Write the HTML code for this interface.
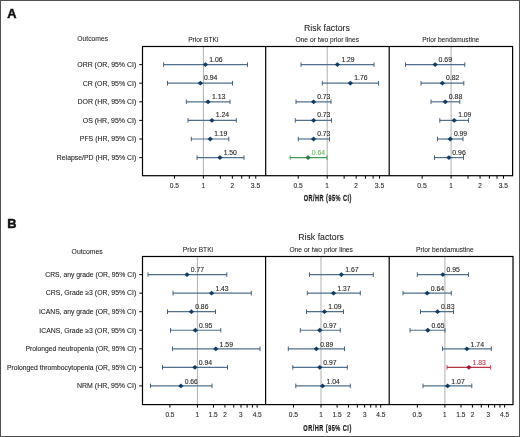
<!DOCTYPE html>
<html><head><meta charset="utf-8"><style>
html,body{margin:0;padding:0;background:#fff;}
body{width:520px;height:437px;overflow:hidden;}
svg{display:block;font-family:"Liberation Sans", sans-serif;-webkit-font-smoothing:antialiased;will-change:transform;}
</style></head><body>
<svg width="520" height="437" viewBox="0 0 520 437">
<rect x="0.5" y="0.5" width="519" height="436" fill="#fff" stroke="#505050" stroke-width="1"/>
<line x1="203.40" y1="46.50" x2="203.40" y2="175.70" stroke="#b0b0b0" stroke-width="1"/>
<line x1="327.20" y1="46.50" x2="327.20" y2="175.70" stroke="#b0b0b0" stroke-width="1"/>
<line x1="451.10" y1="46.50" x2="451.10" y2="175.70" stroke="#b0b0b0" stroke-width="1"/>
<line x1="139.30" y1="64.60" x2="142.50" y2="64.60" stroke="#000" stroke-width="1"/>
<line x1="139.30" y1="83.20" x2="142.50" y2="83.20" stroke="#000" stroke-width="1"/>
<line x1="139.30" y1="101.80" x2="142.50" y2="101.80" stroke="#000" stroke-width="1"/>
<line x1="139.30" y1="120.40" x2="142.50" y2="120.40" stroke="#000" stroke-width="1"/>
<line x1="139.30" y1="139.00" x2="142.50" y2="139.00" stroke="#000" stroke-width="1"/>
<line x1="139.30" y1="157.60" x2="142.50" y2="157.60" stroke="#000" stroke-width="1"/>
<line x1="163.60" y1="64.60" x2="247.50" y2="64.60" stroke="#51708c" stroke-width="1.2"/>
<line x1="163.60" y1="62.30" x2="163.60" y2="66.90" stroke="#36526f" stroke-width="0.9"/>
<line x1="247.50" y1="62.30" x2="247.50" y2="66.90" stroke="#36526f" stroke-width="0.9"/>
<path d="M202.69,64.60 L205.39,62.20 L208.09,64.60 L205.39,67.00 Z" fill="#113c66"/>
<line x1="167.50" y1="83.20" x2="232.50" y2="83.20" stroke="#51708c" stroke-width="1.2"/>
<line x1="167.50" y1="80.90" x2="167.50" y2="85.50" stroke="#36526f" stroke-width="0.9"/>
<line x1="232.50" y1="80.90" x2="232.50" y2="85.50" stroke="#36526f" stroke-width="0.9"/>
<path d="M197.66,83.20 L200.36,80.80 L203.06,83.20 L200.36,85.60 Z" fill="#113c66"/>
<line x1="186.30" y1="101.80" x2="230.00" y2="101.80" stroke="#51708c" stroke-width="1.2"/>
<line x1="186.30" y1="99.50" x2="186.30" y2="104.10" stroke="#36526f" stroke-width="0.9"/>
<line x1="230.00" y1="99.50" x2="230.00" y2="104.10" stroke="#36526f" stroke-width="0.9"/>
<path d="M205.36,101.80 L208.06,99.40 L210.76,101.80 L208.06,104.20 Z" fill="#113c66"/>
<line x1="188.00" y1="120.40" x2="236.30" y2="120.40" stroke="#51708c" stroke-width="1.2"/>
<line x1="188.00" y1="118.10" x2="188.00" y2="122.70" stroke="#36526f" stroke-width="0.9"/>
<line x1="236.30" y1="118.10" x2="236.30" y2="122.70" stroke="#36526f" stroke-width="0.9"/>
<path d="M209.24,120.40 L211.94,118.00 L214.64,120.40 L211.94,122.80 Z" fill="#113c66"/>
<line x1="191.30" y1="139.00" x2="228.80" y2="139.00" stroke="#51708c" stroke-width="1.2"/>
<line x1="191.30" y1="136.70" x2="191.30" y2="141.30" stroke="#36526f" stroke-width="0.9"/>
<line x1="228.80" y1="136.70" x2="228.80" y2="141.30" stroke="#36526f" stroke-width="0.9"/>
<path d="M207.52,139.00 L210.22,136.60 L212.92,139.00 L210.22,141.40 Z" fill="#113c66"/>
<line x1="197.00" y1="157.60" x2="244.00" y2="157.60" stroke="#51708c" stroke-width="1.2"/>
<line x1="197.00" y1="155.30" x2="197.00" y2="159.90" stroke="#36526f" stroke-width="0.9"/>
<line x1="244.00" y1="155.30" x2="244.00" y2="159.90" stroke="#36526f" stroke-width="0.9"/>
<path d="M217.20,157.60 L219.90,155.20 L222.60,157.60 L219.90,160.00 Z" fill="#113c66"/>
<line x1="301.00" y1="64.60" x2="374.00" y2="64.60" stroke="#51708c" stroke-width="1.2"/>
<line x1="301.00" y1="62.30" x2="301.00" y2="66.90" stroke="#36526f" stroke-width="0.9"/>
<line x1="374.00" y1="62.30" x2="374.00" y2="66.90" stroke="#36526f" stroke-width="0.9"/>
<path d="M334.69,64.60 L337.39,62.20 L340.09,64.60 L337.39,67.00 Z" fill="#113c66"/>
<line x1="322.30" y1="83.20" x2="378.50" y2="83.20" stroke="#51708c" stroke-width="1.2"/>
<line x1="322.30" y1="80.90" x2="322.30" y2="85.50" stroke="#36526f" stroke-width="0.9"/>
<line x1="378.50" y1="80.90" x2="378.50" y2="85.50" stroke="#36526f" stroke-width="0.9"/>
<path d="M347.68,83.20 L350.38,80.80 L353.08,83.20 L350.38,85.60 Z" fill="#113c66"/>
<line x1="296.00" y1="101.80" x2="331.00" y2="101.80" stroke="#51708c" stroke-width="1.2"/>
<line x1="296.00" y1="99.50" x2="296.00" y2="104.10" stroke="#36526f" stroke-width="0.9"/>
<line x1="331.00" y1="99.50" x2="331.00" y2="104.10" stroke="#36526f" stroke-width="0.9"/>
<path d="M310.90,101.80 L313.60,99.40 L316.30,101.80 L313.60,104.20 Z" fill="#113c66"/>
<line x1="295.30" y1="120.40" x2="331.50" y2="120.40" stroke="#51708c" stroke-width="1.2"/>
<line x1="295.30" y1="118.10" x2="295.30" y2="122.70" stroke="#36526f" stroke-width="0.9"/>
<line x1="331.50" y1="118.10" x2="331.50" y2="122.70" stroke="#36526f" stroke-width="0.9"/>
<path d="M310.90,120.40 L313.60,118.00 L316.30,120.40 L313.60,122.80 Z" fill="#113c66"/>
<line x1="298.30" y1="139.00" x2="329.50" y2="139.00" stroke="#51708c" stroke-width="1.2"/>
<line x1="298.30" y1="136.70" x2="298.30" y2="141.30" stroke="#36526f" stroke-width="0.9"/>
<line x1="329.50" y1="136.70" x2="329.50" y2="141.30" stroke="#36526f" stroke-width="0.9"/>
<path d="M310.90,139.00 L313.60,136.60 L316.30,139.00 L313.60,141.40 Z" fill="#113c66"/>
<line x1="290.20" y1="157.60" x2="327.00" y2="157.60" stroke="#40985a" stroke-width="1.2"/>
<line x1="290.20" y1="155.30" x2="290.20" y2="159.90" stroke="#40985a" stroke-width="0.9"/>
<line x1="327.00" y1="155.30" x2="327.00" y2="159.90" stroke="#40985a" stroke-width="0.9"/>
<path d="M305.40,157.60 L308.10,155.20 L310.80,157.60 L308.10,160.00 Z" fill="#2a7d3e"/>
<line x1="405.50" y1="64.60" x2="464.80" y2="64.60" stroke="#51708c" stroke-width="1.2"/>
<line x1="405.50" y1="62.30" x2="405.50" y2="66.90" stroke="#36526f" stroke-width="0.9"/>
<line x1="464.80" y1="62.30" x2="464.80" y2="66.90" stroke="#36526f" stroke-width="0.9"/>
<path d="M432.44,64.60 L435.14,62.20 L437.84,64.60 L435.14,67.00 Z" fill="#113c66"/>
<line x1="421.00" y1="83.20" x2="463.80" y2="83.20" stroke="#51708c" stroke-width="1.2"/>
<line x1="421.00" y1="80.90" x2="421.00" y2="85.50" stroke="#36526f" stroke-width="0.9"/>
<line x1="463.80" y1="80.90" x2="463.80" y2="85.50" stroke="#36526f" stroke-width="0.9"/>
<path d="M439.65,83.20 L442.35,80.80 L445.05,83.20 L442.35,85.60 Z" fill="#113c66"/>
<line x1="431.00" y1="101.80" x2="459.80" y2="101.80" stroke="#51708c" stroke-width="1.2"/>
<line x1="431.00" y1="99.50" x2="431.00" y2="104.10" stroke="#36526f" stroke-width="0.9"/>
<line x1="459.80" y1="99.50" x2="459.80" y2="104.10" stroke="#36526f" stroke-width="0.9"/>
<path d="M442.61,101.80 L445.31,99.40 L448.01,101.80 L445.31,104.20 Z" fill="#113c66"/>
<line x1="439.80" y1="120.40" x2="468.50" y2="120.40" stroke="#51708c" stroke-width="1.2"/>
<line x1="439.80" y1="118.10" x2="439.80" y2="122.70" stroke="#36526f" stroke-width="0.9"/>
<line x1="468.50" y1="118.10" x2="468.50" y2="122.70" stroke="#36526f" stroke-width="0.9"/>
<path d="M451.55,120.40 L454.25,118.00 L456.95,120.40 L454.25,122.80 Z" fill="#113c66"/>
<line x1="437.50" y1="139.00" x2="463.00" y2="139.00" stroke="#51708c" stroke-width="1.2"/>
<line x1="437.50" y1="136.70" x2="437.50" y2="141.30" stroke="#36526f" stroke-width="0.9"/>
<line x1="463.00" y1="136.70" x2="463.00" y2="141.30" stroke="#36526f" stroke-width="0.9"/>
<path d="M447.53,139.00 L450.23,136.60 L452.93,139.00 L450.23,141.40 Z" fill="#113c66"/>
<line x1="434.50" y1="157.60" x2="463.50" y2="157.60" stroke="#51708c" stroke-width="1.2"/>
<line x1="434.50" y1="155.30" x2="434.50" y2="159.90" stroke="#36526f" stroke-width="0.9"/>
<line x1="463.50" y1="155.30" x2="463.50" y2="159.90" stroke="#36526f" stroke-width="0.9"/>
<path d="M446.24,157.60 L448.94,155.20 L451.64,157.60 L448.94,160.00 Z" fill="#113c66"/>
<rect x="142.50" y="46.50" width="370.10" height="129.20" fill="none" stroke="#000" stroke-width="1.2"/>
<line x1="265.70" y1="46.50" x2="265.70" y2="175.70" stroke="#000" stroke-width="1.2"/>
<line x1="389.20" y1="46.50" x2="389.20" y2="175.70" stroke="#000" stroke-width="1.2"/>
<line x1="174.43" y1="175.70" x2="174.43" y2="178.70" stroke="#000" stroke-width="1"/>
<line x1="203.40" y1="175.70" x2="203.40" y2="178.70" stroke="#000" stroke-width="1"/>
<line x1="220.35" y1="175.70" x2="220.35" y2="178.70" stroke="#000" stroke-width="1"/>
<line x1="232.37" y1="175.70" x2="232.37" y2="178.70" stroke="#000" stroke-width="1"/>
<line x1="241.70" y1="175.70" x2="241.70" y2="178.70" stroke="#000" stroke-width="1"/>
<line x1="249.32" y1="175.70" x2="249.32" y2="178.70" stroke="#000" stroke-width="1"/>
<line x1="255.77" y1="175.70" x2="255.77" y2="178.70" stroke="#000" stroke-width="1"/>
<line x1="298.23" y1="175.70" x2="298.23" y2="178.70" stroke="#000" stroke-width="1"/>
<line x1="327.20" y1="175.70" x2="327.20" y2="178.70" stroke="#000" stroke-width="1"/>
<line x1="344.15" y1="175.70" x2="344.15" y2="178.70" stroke="#000" stroke-width="1"/>
<line x1="356.17" y1="175.70" x2="356.17" y2="178.70" stroke="#000" stroke-width="1"/>
<line x1="365.50" y1="175.70" x2="365.50" y2="178.70" stroke="#000" stroke-width="1"/>
<line x1="373.12" y1="175.70" x2="373.12" y2="178.70" stroke="#000" stroke-width="1"/>
<line x1="379.57" y1="175.70" x2="379.57" y2="178.70" stroke="#000" stroke-width="1"/>
<line x1="422.13" y1="175.70" x2="422.13" y2="178.70" stroke="#000" stroke-width="1"/>
<line x1="451.10" y1="175.70" x2="451.10" y2="178.70" stroke="#000" stroke-width="1"/>
<line x1="468.05" y1="175.70" x2="468.05" y2="178.70" stroke="#000" stroke-width="1"/>
<line x1="480.07" y1="175.70" x2="480.07" y2="178.70" stroke="#000" stroke-width="1"/>
<line x1="489.40" y1="175.70" x2="489.40" y2="178.70" stroke="#000" stroke-width="1"/>
<line x1="497.02" y1="175.70" x2="497.02" y2="178.70" stroke="#000" stroke-width="1"/>
<line x1="503.47" y1="175.70" x2="503.47" y2="178.70" stroke="#000" stroke-width="1"/>
<line x1="197.40" y1="256.50" x2="197.40" y2="404.60" stroke="#b0b0b0" stroke-width="1"/>
<line x1="321.00" y1="256.50" x2="321.00" y2="404.60" stroke="#b0b0b0" stroke-width="1"/>
<line x1="444.90" y1="256.50" x2="444.90" y2="404.60" stroke="#b0b0b0" stroke-width="1"/>
<line x1="139.30" y1="274.60" x2="142.50" y2="274.60" stroke="#000" stroke-width="1"/>
<line x1="139.30" y1="293.15" x2="142.50" y2="293.15" stroke="#000" stroke-width="1"/>
<line x1="139.30" y1="311.70" x2="142.50" y2="311.70" stroke="#000" stroke-width="1"/>
<line x1="139.30" y1="330.25" x2="142.50" y2="330.25" stroke="#000" stroke-width="1"/>
<line x1="139.30" y1="348.80" x2="142.50" y2="348.80" stroke="#000" stroke-width="1"/>
<line x1="139.30" y1="367.35" x2="142.50" y2="367.35" stroke="#000" stroke-width="1"/>
<line x1="139.30" y1="385.90" x2="142.50" y2="385.90" stroke="#000" stroke-width="1"/>
<line x1="148.00" y1="274.60" x2="226.80" y2="274.60" stroke="#51708c" stroke-width="1.2"/>
<line x1="148.00" y1="272.30" x2="148.00" y2="276.90" stroke="#36526f" stroke-width="0.9"/>
<line x1="226.80" y1="272.30" x2="226.80" y2="276.90" stroke="#36526f" stroke-width="0.9"/>
<path d="M184.32,274.60 L187.02,272.20 L189.72,274.60 L187.02,277.00 Z" fill="#113c66"/>
<line x1="173.00" y1="293.15" x2="251.30" y2="293.15" stroke="#51708c" stroke-width="1.2"/>
<line x1="173.00" y1="290.85" x2="173.00" y2="295.45" stroke="#36526f" stroke-width="0.9"/>
<line x1="251.30" y1="290.85" x2="251.30" y2="295.45" stroke="#36526f" stroke-width="0.9"/>
<path d="M208.90,293.15 L211.60,290.75 L214.30,293.15 L211.60,295.55 Z" fill="#113c66"/>
<line x1="167.50" y1="311.70" x2="215.50" y2="311.70" stroke="#51708c" stroke-width="1.2"/>
<line x1="167.50" y1="309.40" x2="167.50" y2="314.00" stroke="#36526f" stroke-width="0.9"/>
<line x1="215.50" y1="309.40" x2="215.50" y2="314.00" stroke="#36526f" stroke-width="0.9"/>
<path d="M188.71,311.70 L191.41,309.30 L194.11,311.70 L191.41,314.10 Z" fill="#113c66"/>
<line x1="170.50" y1="330.25" x2="220.80" y2="330.25" stroke="#51708c" stroke-width="1.2"/>
<line x1="170.50" y1="327.95" x2="170.50" y2="332.55" stroke="#36526f" stroke-width="0.9"/>
<line x1="220.80" y1="327.95" x2="220.80" y2="332.55" stroke="#36526f" stroke-width="0.9"/>
<path d="M192.66,330.25 L195.36,327.85 L198.06,330.25 L195.36,332.65 Z" fill="#113c66"/>
<line x1="172.50" y1="348.80" x2="260.00" y2="348.80" stroke="#51708c" stroke-width="1.2"/>
<line x1="172.50" y1="346.50" x2="172.50" y2="351.10" stroke="#36526f" stroke-width="0.9"/>
<line x1="260.00" y1="346.50" x2="260.00" y2="351.10" stroke="#36526f" stroke-width="0.9"/>
<path d="M213.11,348.80 L215.81,346.40 L218.51,348.80 L215.81,351.20 Z" fill="#113c66"/>
<line x1="162.50" y1="367.35" x2="227.50" y2="367.35" stroke="#51708c" stroke-width="1.2"/>
<line x1="162.50" y1="365.05" x2="162.50" y2="369.65" stroke="#36526f" stroke-width="0.9"/>
<line x1="227.50" y1="365.05" x2="227.50" y2="369.65" stroke="#36526f" stroke-width="0.9"/>
<path d="M192.24,367.35 L194.94,364.95 L197.64,367.35 L194.94,369.75 Z" fill="#113c66"/>
<line x1="150.50" y1="385.90" x2="212.00" y2="385.90" stroke="#51708c" stroke-width="1.2"/>
<line x1="150.50" y1="383.60" x2="150.50" y2="388.20" stroke="#36526f" stroke-width="0.9"/>
<line x1="212.00" y1="383.60" x2="212.00" y2="388.20" stroke="#36526f" stroke-width="0.9"/>
<path d="M178.20,385.90 L180.90,383.50 L183.60,385.90 L180.90,388.30 Z" fill="#113c66"/>
<line x1="309.50" y1="274.60" x2="373.30" y2="274.60" stroke="#51708c" stroke-width="1.2"/>
<line x1="309.50" y1="272.30" x2="309.50" y2="276.90" stroke="#36526f" stroke-width="0.9"/>
<line x1="373.30" y1="272.30" x2="373.30" y2="276.90" stroke="#36526f" stroke-width="0.9"/>
<path d="M338.66,274.60 L341.36,272.20 L344.06,274.60 L341.36,277.00 Z" fill="#113c66"/>
<line x1="307.30" y1="293.15" x2="360.30" y2="293.15" stroke="#51708c" stroke-width="1.2"/>
<line x1="307.30" y1="290.85" x2="307.30" y2="295.45" stroke="#36526f" stroke-width="0.9"/>
<line x1="360.30" y1="290.85" x2="360.30" y2="295.45" stroke="#36526f" stroke-width="0.9"/>
<path d="M330.80,293.15 L333.50,290.75 L336.20,293.15 L333.50,295.55 Z" fill="#113c66"/>
<line x1="306.50" y1="311.70" x2="343.50" y2="311.70" stroke="#51708c" stroke-width="1.2"/>
<line x1="306.50" y1="309.40" x2="306.50" y2="314.00" stroke="#36526f" stroke-width="0.9"/>
<line x1="343.50" y1="309.40" x2="343.50" y2="314.00" stroke="#36526f" stroke-width="0.9"/>
<path d="M321.72,311.70 L324.42,309.30 L327.12,311.70 L324.42,314.10 Z" fill="#113c66"/>
<line x1="300.30" y1="330.25" x2="340.30" y2="330.25" stroke="#51708c" stroke-width="1.2"/>
<line x1="300.30" y1="327.95" x2="300.30" y2="332.55" stroke="#36526f" stroke-width="0.9"/>
<line x1="340.30" y1="327.95" x2="340.30" y2="332.55" stroke="#36526f" stroke-width="0.9"/>
<path d="M317.09,330.25 L319.79,327.85 L322.49,330.25 L319.79,332.65 Z" fill="#113c66"/>
<line x1="288.30" y1="348.80" x2="344.50" y2="348.80" stroke="#51708c" stroke-width="1.2"/>
<line x1="288.30" y1="346.50" x2="288.30" y2="351.10" stroke="#36526f" stroke-width="0.9"/>
<line x1="344.50" y1="346.50" x2="344.50" y2="351.10" stroke="#36526f" stroke-width="0.9"/>
<path d="M313.67,348.80 L316.37,346.40 L319.07,348.80 L316.37,351.20 Z" fill="#113c66"/>
<line x1="292.80" y1="367.35" x2="347.30" y2="367.35" stroke="#51708c" stroke-width="1.2"/>
<line x1="292.80" y1="365.05" x2="292.80" y2="369.65" stroke="#36526f" stroke-width="0.9"/>
<line x1="347.30" y1="365.05" x2="347.30" y2="369.65" stroke="#36526f" stroke-width="0.9"/>
<path d="M317.09,367.35 L319.79,364.95 L322.49,367.35 L319.79,369.75 Z" fill="#113c66"/>
<line x1="295.80" y1="385.90" x2="350.30" y2="385.90" stroke="#51708c" stroke-width="1.2"/>
<line x1="295.80" y1="383.60" x2="295.80" y2="388.20" stroke="#36526f" stroke-width="0.9"/>
<line x1="350.30" y1="383.60" x2="350.30" y2="388.20" stroke="#36526f" stroke-width="0.9"/>
<path d="M319.86,385.90 L322.56,383.50 L325.26,385.90 L322.56,388.30 Z" fill="#113c66"/>
<line x1="417.30" y1="274.60" x2="468.50" y2="274.60" stroke="#51708c" stroke-width="1.2"/>
<line x1="417.30" y1="272.30" x2="417.30" y2="276.90" stroke="#36526f" stroke-width="0.9"/>
<line x1="468.50" y1="272.30" x2="468.50" y2="276.90" stroke="#36526f" stroke-width="0.9"/>
<path d="M440.16,274.60 L442.86,272.20 L445.56,274.60 L442.86,277.00 Z" fill="#113c66"/>
<line x1="403.00" y1="293.15" x2="451.30" y2="293.15" stroke="#51708c" stroke-width="1.2"/>
<line x1="403.00" y1="290.85" x2="403.00" y2="295.45" stroke="#36526f" stroke-width="0.9"/>
<line x1="451.30" y1="290.85" x2="451.30" y2="295.45" stroke="#36526f" stroke-width="0.9"/>
<path d="M424.48,293.15 L427.18,290.75 L429.88,293.15 L427.18,295.55 Z" fill="#113c66"/>
<line x1="420.50" y1="311.70" x2="453.50" y2="311.70" stroke="#51708c" stroke-width="1.2"/>
<line x1="420.50" y1="309.40" x2="420.50" y2="314.00" stroke="#36526f" stroke-width="0.9"/>
<line x1="453.50" y1="309.40" x2="453.50" y2="314.00" stroke="#36526f" stroke-width="0.9"/>
<path d="M434.80,311.70 L437.50,309.30 L440.20,311.70 L437.50,314.10 Z" fill="#113c66"/>
<line x1="410.00" y1="330.25" x2="445.00" y2="330.25" stroke="#51708c" stroke-width="1.2"/>
<line x1="410.00" y1="327.95" x2="410.00" y2="332.55" stroke="#36526f" stroke-width="0.9"/>
<line x1="445.00" y1="327.95" x2="445.00" y2="332.55" stroke="#36526f" stroke-width="0.9"/>
<path d="M425.10,330.25 L427.80,327.85 L430.50,330.25 L427.80,332.65 Z" fill="#113c66"/>
<line x1="442.50" y1="348.80" x2="491.30" y2="348.80" stroke="#51708c" stroke-width="1.2"/>
<line x1="442.50" y1="346.50" x2="442.50" y2="351.10" stroke="#36526f" stroke-width="0.9"/>
<line x1="491.30" y1="346.50" x2="491.30" y2="351.10" stroke="#36526f" stroke-width="0.9"/>
<path d="M464.19,348.80 L466.89,346.40 L469.59,348.80 L466.89,351.20 Z" fill="#113c66"/>
<line x1="447.00" y1="367.35" x2="490.60" y2="367.35" stroke="#b83447" stroke-width="1.2"/>
<line x1="447.00" y1="365.05" x2="447.00" y2="369.65" stroke="#b83447" stroke-width="0.9"/>
<line x1="490.60" y1="365.05" x2="490.60" y2="369.65" stroke="#b83447" stroke-width="0.9"/>
<path d="M466.19,367.35 L468.89,364.95 L471.59,367.35 L468.89,369.75 Z" fill="#a01834"/>
<line x1="423.00" y1="385.90" x2="471.80" y2="385.90" stroke="#51708c" stroke-width="1.2"/>
<line x1="423.00" y1="383.60" x2="423.00" y2="388.20" stroke="#36526f" stroke-width="0.9"/>
<line x1="471.80" y1="383.60" x2="471.80" y2="388.20" stroke="#36526f" stroke-width="0.9"/>
<path d="M444.89,385.90 L447.59,383.50 L450.29,385.90 L447.59,388.30 Z" fill="#113c66"/>
<rect x="142.50" y="256.50" width="370.50" height="148.10" fill="none" stroke="#000" stroke-width="1.2"/>
<line x1="265.60" y1="256.50" x2="265.60" y2="404.60" stroke="#000" stroke-width="1.2"/>
<line x1="389.20" y1="256.50" x2="389.20" y2="404.60" stroke="#000" stroke-width="1.2"/>
<line x1="169.88" y1="404.60" x2="169.88" y2="407.60" stroke="#000" stroke-width="1"/>
<line x1="197.40" y1="404.60" x2="197.40" y2="407.60" stroke="#000" stroke-width="1"/>
<line x1="213.50" y1="404.60" x2="213.50" y2="407.60" stroke="#000" stroke-width="1"/>
<line x1="224.92" y1="404.60" x2="224.92" y2="407.60" stroke="#000" stroke-width="1"/>
<line x1="233.78" y1="404.60" x2="233.78" y2="407.60" stroke="#000" stroke-width="1"/>
<line x1="241.01" y1="404.60" x2="241.01" y2="407.60" stroke="#000" stroke-width="1"/>
<line x1="247.13" y1="404.60" x2="247.13" y2="407.60" stroke="#000" stroke-width="1"/>
<line x1="252.44" y1="404.60" x2="252.44" y2="407.60" stroke="#000" stroke-width="1"/>
<line x1="257.11" y1="404.60" x2="257.11" y2="407.60" stroke="#000" stroke-width="1"/>
<line x1="293.48" y1="404.60" x2="293.48" y2="407.60" stroke="#000" stroke-width="1"/>
<line x1="321.00" y1="404.60" x2="321.00" y2="407.60" stroke="#000" stroke-width="1"/>
<line x1="337.10" y1="404.60" x2="337.10" y2="407.60" stroke="#000" stroke-width="1"/>
<line x1="348.52" y1="404.60" x2="348.52" y2="407.60" stroke="#000" stroke-width="1"/>
<line x1="357.38" y1="404.60" x2="357.38" y2="407.60" stroke="#000" stroke-width="1"/>
<line x1="364.61" y1="404.60" x2="364.61" y2="407.60" stroke="#000" stroke-width="1"/>
<line x1="370.73" y1="404.60" x2="370.73" y2="407.60" stroke="#000" stroke-width="1"/>
<line x1="376.04" y1="404.60" x2="376.04" y2="407.60" stroke="#000" stroke-width="1"/>
<line x1="380.71" y1="404.60" x2="380.71" y2="407.60" stroke="#000" stroke-width="1"/>
<line x1="417.38" y1="404.60" x2="417.38" y2="407.60" stroke="#000" stroke-width="1"/>
<line x1="444.90" y1="404.60" x2="444.90" y2="407.60" stroke="#000" stroke-width="1"/>
<line x1="461.00" y1="404.60" x2="461.00" y2="407.60" stroke="#000" stroke-width="1"/>
<line x1="472.42" y1="404.60" x2="472.42" y2="407.60" stroke="#000" stroke-width="1"/>
<line x1="481.28" y1="404.60" x2="481.28" y2="407.60" stroke="#000" stroke-width="1"/>
<line x1="488.51" y1="404.60" x2="488.51" y2="407.60" stroke="#000" stroke-width="1"/>
<line x1="494.63" y1="404.60" x2="494.63" y2="407.60" stroke="#000" stroke-width="1"/>
<line x1="499.94" y1="404.60" x2="499.94" y2="407.60" stroke="#000" stroke-width="1"/>
<line x1="504.61" y1="404.60" x2="504.61" y2="407.60" stroke="#000" stroke-width="1"/>
<text transform="translate(7.134,17.60) scale(1.0000,1)" font-size="12.8" font-weight="bold" fill="#111" stroke="#111" stroke-width="0.5">A</text>
<text transform="translate(304.020,30.50) scale(0.9879,1)" font-size="8.9" font-weight="normal" fill="#222" stroke="#222" stroke-width="0.05">Risk factors</text>
<text transform="translate(77.363,41.30) scale(0.9957,1)" font-size="6.8" font-weight="normal" fill="#222" stroke="#222" stroke-width="0.06">Outcomes</text>
<text transform="translate(188.143,41.55) scale(0.9790,1)" font-size="6.8" font-weight="normal" fill="#222" stroke="#222" stroke-width="0.06">Prior BTKi</text>
<text transform="translate(295.410,41.55) scale(0.9855,1)" font-size="6.8" font-weight="normal" fill="#222" stroke="#222" stroke-width="0.06">One or two prior lines</text>
<text transform="translate(422.173,41.55) scale(0.9696,1)" font-size="6.8" font-weight="normal" fill="#222" stroke="#222" stroke-width="0.06">Prior bendamustine</text>
<text transform="translate(77.244,66.90) scale(1.0228,1)" font-size="6.8" font-weight="normal" fill="#222" stroke="#222" stroke-width="0.08">ORR (OR, 95% CI)</text>
<text transform="translate(82.808,85.50) scale(1.0192,1)" font-size="6.8" font-weight="normal" fill="#222" stroke="#222" stroke-width="0.08">CR (OR, 95% CI)</text>
<text transform="translate(77.455,104.10) scale(1.0275,1)" font-size="6.8" font-weight="normal" fill="#222" stroke="#222" stroke-width="0.08">DOR (HR, 95% CI)</text>
<text transform="translate(82.768,122.70) scale(1.0273,1)" font-size="6.8" font-weight="normal" fill="#222" stroke="#222" stroke-width="0.08">OS (HR, 95% CI)</text>
<text transform="translate(79.764,141.30) scale(1.0190,1)" font-size="6.8" font-weight="normal" fill="#222" stroke="#222" stroke-width="0.08">PFS (HR, 95% CI)</text>
<text transform="translate(56.818,159.90) scale(1.0129,1)" font-size="6.8" font-weight="normal" fill="#222" stroke="#222" stroke-width="0.08">Relapse/PD (HR, 95% CI)</text>
<text transform="translate(209.327,61.65) scale(1.0044,1)" font-size="6.8" font-weight="normal" fill="#2a2a2a" stroke="#2a2a2a" stroke-width="0.12">1.06</text>
<text transform="translate(204.066,80.25) scale(1.0126,1)" font-size="6.8" font-weight="normal" fill="#2a2a2a" stroke="#2a2a2a" stroke-width="0.12">0.94</text>
<text transform="translate(211.885,98.85) scale(1.0253,1)" font-size="6.8" font-weight="normal" fill="#2a2a2a" stroke="#2a2a2a" stroke-width="0.12">1.13</text>
<text transform="translate(215.725,117.45) scale(1.0133,1)" font-size="6.8" font-weight="normal" fill="#2a2a2a" stroke="#2a2a2a" stroke-width="0.12">1.24</text>
<text transform="translate(214.229,136.05) scale(0.9902,1)" font-size="6.8" font-weight="normal" fill="#2a2a2a" stroke="#2a2a2a" stroke-width="0.12">1.19</text>
<text transform="translate(223.639,154.65) scale(1.0052,1)" font-size="6.8" font-weight="normal" fill="#2a2a2a" stroke="#2a2a2a" stroke-width="0.12">1.50</text>
<text transform="translate(341.413,61.65) scale(0.9895,1)" font-size="6.8" font-weight="normal" fill="#2a2a2a" stroke="#2a2a2a" stroke-width="0.12">1.29</text>
<text transform="translate(354.278,80.25) scale(1.0044,1)" font-size="6.8" font-weight="normal" fill="#2a2a2a" stroke="#2a2a2a" stroke-width="0.12">1.76</text>
<text transform="translate(317.155,98.85) scale(0.9968,1)" font-size="6.8" font-weight="normal" fill="#2a2a2a" stroke="#2a2a2a" stroke-width="0.12">0.73</text>
<text transform="translate(317.155,117.45) scale(0.9968,1)" font-size="6.8" font-weight="normal" fill="#2a2a2a" stroke="#2a2a2a" stroke-width="0.12">0.73</text>
<text transform="translate(317.155,136.05) scale(0.9968,1)" font-size="6.8" font-weight="normal" fill="#2a2a2a" stroke="#2a2a2a" stroke-width="0.12">0.73</text>
<text transform="translate(311.651,154.65) scale(1.0275,1)" font-size="6.8" font-weight="normal" fill="#74b46a" stroke="#74b46a" stroke-width="0.12">0.64</text>
<text transform="translate(438.509,61.65) scale(1.0260,1)" font-size="6.8" font-weight="normal" fill="#2a2a2a" stroke="#2a2a2a" stroke-width="0.12">0.69</text>
<text transform="translate(445.986,80.25) scale(1.0196,1)" font-size="6.8" font-weight="normal" fill="#2a2a2a" stroke="#2a2a2a" stroke-width="0.12">0.82</text>
<text transform="translate(448.769,98.85) scale(1.0215,1)" font-size="6.8" font-weight="normal" fill="#2a2a2a" stroke="#2a2a2a" stroke-width="0.12">0.88</text>
<text transform="translate(458.192,117.45) scale(0.9991,1)" font-size="6.8" font-weight="normal" fill="#2a2a2a" stroke="#2a2a2a" stroke-width="0.12">1.09</text>
<text transform="translate(453.940,136.05) scale(0.9993,1)" font-size="6.8" font-weight="normal" fill="#2a2a2a" stroke="#2a2a2a" stroke-width="0.12">0.99</text>
<text transform="translate(452.287,154.65) scale(1.0168,1)" font-size="6.8" font-weight="normal" fill="#2a2a2a" stroke="#2a2a2a" stroke-width="0.12">0.96</text>
<text transform="translate(169.823,188.00) scale(1.0389,1)" font-size="6.4" font-weight="normal" fill="#2a2a2a" stroke="#2a2a2a" stroke-width="0.1">0.5</text>
<text transform="translate(201.488,188.00) scale(1.0000,1)" font-size="6.4" font-weight="normal" fill="#2a2a2a" stroke="#2a2a2a" stroke-width="0.1">1</text>
<text transform="translate(230.536,188.00) scale(1.0000,1)" font-size="6.4" font-weight="normal" fill="#2a2a2a" stroke="#2a2a2a" stroke-width="0.1">2</text>
<text transform="translate(250.856,188.00) scale(1.0705,1)" font-size="6.4" font-weight="normal" fill="#2a2a2a" stroke="#2a2a2a" stroke-width="0.1">3.5</text>
<text transform="translate(293.588,188.00) scale(1.0372,1)" font-size="6.4" font-weight="normal" fill="#2a2a2a" stroke="#2a2a2a" stroke-width="0.1">0.5</text>
<text transform="translate(325.371,188.00) scale(1.0000,1)" font-size="6.4" font-weight="normal" fill="#2a2a2a" stroke="#2a2a2a" stroke-width="0.1">1</text>
<text transform="translate(354.308,188.00) scale(1.0000,1)" font-size="6.4" font-weight="normal" fill="#2a2a2a" stroke="#2a2a2a" stroke-width="0.1">2</text>
<text transform="translate(374.790,188.00) scale(1.0777,1)" font-size="6.4" font-weight="normal" fill="#2a2a2a" stroke="#2a2a2a" stroke-width="0.1">3.5</text>
<text transform="translate(417.261,188.00) scale(1.0778,1)" font-size="6.4" font-weight="normal" fill="#2a2a2a" stroke="#2a2a2a" stroke-width="0.1">0.5</text>
<text transform="translate(449.336,188.00) scale(1.0000,1)" font-size="6.4" font-weight="normal" fill="#2a2a2a" stroke="#2a2a2a" stroke-width="0.1">1</text>
<text transform="translate(478.289,188.00) scale(1.0000,1)" font-size="6.4" font-weight="normal" fill="#2a2a2a" stroke="#2a2a2a" stroke-width="0.1">2</text>
<text transform="translate(498.640,188.00) scale(1.0474,1)" font-size="6.4" font-weight="normal" fill="#2a2a2a" stroke="#2a2a2a" stroke-width="0.1">3.5</text>
<text transform="translate(303.638,201.20) scale(0.5839,1)" font-size="9.6" font-weight="bold" fill="#1a1a1a" stroke="#1a1a1a" stroke-width="0.25" letter-spacing="0.8">OR/HR (95% CI)</text>
<text transform="translate(7.140,228.00) scale(1.0000,1)" font-size="12.8" font-weight="bold" fill="#111" stroke="#111" stroke-width="0.5">B</text>
<text transform="translate(298.145,240.40) scale(0.9864,1)" font-size="8.9" font-weight="normal" fill="#222" stroke="#222" stroke-width="0.05">Risk factors</text>
<text transform="translate(71.575,254.00) scale(1.0068,1)" font-size="6.8" font-weight="normal" fill="#222" stroke="#222" stroke-width="0.06">Outcomes</text>
<text transform="translate(182.863,251.55) scale(0.9749,1)" font-size="6.8" font-weight="normal" fill="#222" stroke="#222" stroke-width="0.06">Prior BTKi</text>
<text transform="translate(289.394,251.55) scale(0.9846,1)" font-size="6.8" font-weight="normal" fill="#222" stroke="#222" stroke-width="0.06">One or two prior lines</text>
<text transform="translate(416.116,251.55) scale(0.9785,1)" font-size="6.8" font-weight="normal" fill="#222" stroke="#222" stroke-width="0.06">Prior bendamustine</text>
<text transform="translate(45.271,276.90) scale(1.0006,1)" font-size="6.8" font-weight="normal" fill="#222" stroke="#222" stroke-width="0.08">CRS, any grade (OR, 95% CI)</text>
<text transform="translate(45.837,295.45) scale(1.0166,1)" font-size="6.8" font-weight="normal" fill="#222" stroke="#222" stroke-width="0.08">CRS, Grade ≥3 (OR, 95% CI)</text>
<text transform="translate(38.946,314.00) scale(0.9996,1)" font-size="6.8" font-weight="normal" fill="#222" stroke="#222" stroke-width="0.08">ICANS, any grade (OR, 95% CI)</text>
<text transform="translate(39.224,332.55) scale(1.0173,1)" font-size="6.8" font-weight="normal" fill="#222" stroke="#222" stroke-width="0.08">ICANS, Grade ≥3 (OR, 95% CI)</text>
<text transform="translate(25.473,351.10) scale(0.9961,1)" font-size="6.8" font-weight="normal" fill="#222" stroke="#222" stroke-width="0.08">Prolonged neutropenia (OR, 95% CI)</text>
<text transform="translate(6.891,369.65) scale(0.9998,1)" font-size="6.8" font-weight="normal" fill="#222" stroke="#222" stroke-width="0.08">Prolonged thrombocytopenia (OR, 95% CI)</text>
<text transform="translate(77.008,388.20) scale(1.0283,1)" font-size="6.8" font-weight="normal" fill="#222" stroke="#222" stroke-width="0.08">NRM (HR, 95% CI)</text>
<text transform="translate(190.723,272.30) scale(0.9997,1)" font-size="6.8" font-weight="normal" fill="#2a2a2a" stroke="#2a2a2a" stroke-width="0.12">0.77</text>
<text transform="translate(215.381,290.85) scale(1.0035,1)" font-size="6.8" font-weight="normal" fill="#2a2a2a" stroke="#2a2a2a" stroke-width="0.12">1.43</text>
<text transform="translate(195.191,309.40) scale(1.0018,1)" font-size="6.8" font-weight="normal" fill="#2a2a2a" stroke="#2a2a2a" stroke-width="0.12">0.86</text>
<text transform="translate(199.011,327.95) scale(1.0135,1)" font-size="6.8" font-weight="normal" fill="#2a2a2a" stroke="#2a2a2a" stroke-width="0.12">0.95</text>
<text transform="translate(219.551,346.50) scale(1.0157,1)" font-size="6.8" font-weight="normal" fill="#2a2a2a" stroke="#2a2a2a" stroke-width="0.12">1.59</text>
<text transform="translate(198.627,365.05) scale(1.0164,1)" font-size="6.8" font-weight="normal" fill="#2a2a2a" stroke="#2a2a2a" stroke-width="0.12">0.94</text>
<text transform="translate(184.625,383.60) scale(0.9952,1)" font-size="6.8" font-weight="normal" fill="#2a2a2a" stroke="#2a2a2a" stroke-width="0.12">0.66</text>
<text transform="translate(345.199,272.30) scale(1.0134,1)" font-size="6.8" font-weight="normal" fill="#2a2a2a" stroke="#2a2a2a" stroke-width="0.12">1.67</text>
<text transform="translate(337.509,290.85) scale(0.9874,1)" font-size="6.8" font-weight="normal" fill="#2a2a2a" stroke="#2a2a2a" stroke-width="0.12">1.37</text>
<text transform="translate(328.329,309.40) scale(0.9998,1)" font-size="6.8" font-weight="normal" fill="#2a2a2a" stroke="#2a2a2a" stroke-width="0.12">1.09</text>
<text transform="translate(323.321,327.95) scale(1.0016,1)" font-size="6.8" font-weight="normal" fill="#2a2a2a" stroke="#2a2a2a" stroke-width="0.12">0.97</text>
<text transform="translate(320.146,346.50) scale(0.9793,1)" font-size="6.8" font-weight="normal" fill="#2a2a2a" stroke="#2a2a2a" stroke-width="0.12">0.89</text>
<text transform="translate(323.321,365.05) scale(1.0016,1)" font-size="6.8" font-weight="normal" fill="#2a2a2a" stroke="#2a2a2a" stroke-width="0.12">0.97</text>
<text transform="translate(326.561,383.60) scale(1.0107,1)" font-size="6.8" font-weight="normal" fill="#2a2a2a" stroke="#2a2a2a" stroke-width="0.12">1.04</text>
<text transform="translate(446.434,272.30) scale(1.0135,1)" font-size="6.8" font-weight="normal" fill="#2a2a2a" stroke="#2a2a2a" stroke-width="0.12">0.95</text>
<text transform="translate(430.636,290.85) scale(1.0291,1)" font-size="6.8" font-weight="normal" fill="#2a2a2a" stroke="#2a2a2a" stroke-width="0.12">0.64</text>
<text transform="translate(441.098,309.40) scale(1.0170,1)" font-size="6.8" font-weight="normal" fill="#2a2a2a" stroke="#2a2a2a" stroke-width="0.12">0.83</text>
<text transform="translate(431.431,327.95) scale(0.9976,1)" font-size="6.8" font-weight="normal" fill="#2a2a2a" stroke="#2a2a2a" stroke-width="0.12">0.65</text>
<text transform="translate(470.574,346.50) scale(1.0185,1)" font-size="6.8" font-weight="normal" fill="#2a2a2a" stroke="#2a2a2a" stroke-width="0.12">1.74</text>
<text transform="translate(472.599,365.05) scale(1.0064,1)" font-size="6.8" font-weight="normal" fill="#c23a52" stroke="#c23a52" stroke-width="0.12">1.83</text>
<text transform="translate(451.340,383.60) scale(1.0222,1)" font-size="6.8" font-weight="normal" fill="#2a2a2a" stroke="#2a2a2a" stroke-width="0.12">1.07</text>
<text transform="translate(165.442,416.80) scale(1.0095,1)" font-size="6.4" font-weight="normal" fill="#2a2a2a" stroke="#2a2a2a" stroke-width="0.1">0.5</text>
<text transform="translate(195.488,416.80) scale(1.0000,1)" font-size="6.4" font-weight="normal" fill="#2a2a2a" stroke="#2a2a2a" stroke-width="0.1">1</text>
<text transform="translate(208.508,416.80) scale(1.0323,1)" font-size="6.4" font-weight="normal" fill="#2a2a2a" stroke="#2a2a2a" stroke-width="0.1">1.5</text>
<text transform="translate(223.126,416.80) scale(1.0000,1)" font-size="6.4" font-weight="normal" fill="#2a2a2a" stroke="#2a2a2a" stroke-width="0.1">2</text>
<text transform="translate(239.029,416.80) scale(1.0000,1)" font-size="6.4" font-weight="normal" fill="#2a2a2a" stroke="#2a2a2a" stroke-width="0.1">3</text>
<text transform="translate(252.637,416.80) scale(1.0154,1)" font-size="6.4" font-weight="normal" fill="#2a2a2a" stroke="#2a2a2a" stroke-width="0.1">4.5</text>
<text transform="translate(288.748,416.80) scale(1.0534,1)" font-size="6.4" font-weight="normal" fill="#2a2a2a" stroke="#2a2a2a" stroke-width="0.1">0.5</text>
<text transform="translate(319.136,416.80) scale(1.0000,1)" font-size="6.4" font-weight="normal" fill="#2a2a2a" stroke="#2a2a2a" stroke-width="0.1">1</text>
<text transform="translate(332.429,416.80) scale(1.0321,1)" font-size="6.4" font-weight="normal" fill="#2a2a2a" stroke="#2a2a2a" stroke-width="0.1">1.5</text>
<text transform="translate(346.903,416.80) scale(1.0000,1)" font-size="6.4" font-weight="normal" fill="#2a2a2a" stroke="#2a2a2a" stroke-width="0.1">2</text>
<text transform="translate(362.886,416.80) scale(1.0000,1)" font-size="6.4" font-weight="normal" fill="#2a2a2a" stroke="#2a2a2a" stroke-width="0.1">3</text>
<text transform="translate(376.248,416.80) scale(1.0265,1)" font-size="6.4" font-weight="normal" fill="#2a2a2a" stroke="#2a2a2a" stroke-width="0.1">4.5</text>
<text transform="translate(412.589,416.80) scale(1.0479,1)" font-size="6.4" font-weight="normal" fill="#2a2a2a" stroke="#2a2a2a" stroke-width="0.1">0.5</text>
<text transform="translate(442.975,416.80) scale(1.0000,1)" font-size="6.4" font-weight="normal" fill="#2a2a2a" stroke="#2a2a2a" stroke-width="0.1">1</text>
<text transform="translate(456.365,416.80) scale(1.0295,1)" font-size="6.4" font-weight="normal" fill="#2a2a2a" stroke="#2a2a2a" stroke-width="0.1">1.5</text>
<text transform="translate(470.656,416.80) scale(1.0000,1)" font-size="6.4" font-weight="normal" fill="#2a2a2a" stroke="#2a2a2a" stroke-width="0.1">2</text>
<text transform="translate(486.613,416.80) scale(1.0000,1)" font-size="6.4" font-weight="normal" fill="#2a2a2a" stroke="#2a2a2a" stroke-width="0.1">3</text>
<text transform="translate(500.076,416.80) scale(1.0311,1)" font-size="6.4" font-weight="normal" fill="#2a2a2a" stroke="#2a2a2a" stroke-width="0.1">4.5</text>
<text transform="translate(303.343,430.80) scale(0.5859,1)" font-size="9.6" font-weight="bold" fill="#1a1a1a" stroke="#1a1a1a" stroke-width="0.25" letter-spacing="0.8">OR/HR (95% CI)</text>
</svg>
</body></html>
